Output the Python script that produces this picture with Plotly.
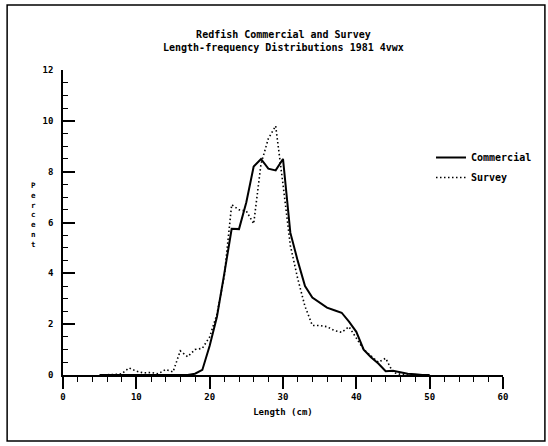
import plotly.graph_objects as go

length_cm = list(range(5, 51))
commercial = [0, 0, 0, 0, 0, 0, 0, 0, 0, 0, 0, 0, 0, 0.05, 0.2, 1.15, 2.3, 4.0,
              5.75, 5.74, 6.8, 8.2, 8.5, 8.12, 8.05, 8.5, 5.6, 4.5, 3.5, 3.05,
              2.85, 2.65, 2.55, 2.45, 2.1, 1.7, 1.0, 0.7, 0.45, 0.15, 0.17, 0.1,
              0.05, 0.03, 0, 0]
survey = [0, 0, 0.02, 0.05, 0.28, 0.15, 0.08, 0.1, 0.05, 0.22, 0.12, 0.95, 0.72,
          1.0, 1.05, 1.5, 2.4, 3.9, 6.7, 6.5, 6.45, 5.95, 8.3, 9.3, 9.8, 7.5,
          5.1, 3.8, 2.7, 1.95, 1.95, 1.9, 1.75, 1.68, 1.9, 1.45, 1.0, 0.75, 0.5,
          0.66, 0.1, 0.03, 0, 0, 0, 0]

x_ticks = [0, 10, 20, 30, 40, 50, 60]
y_ticks = [0, 2, 4, 6, 8, 10, 12]

FONT = "DejaVu Sans Mono"
W, H = 548, 446
L, R, T, B = 63, 44, 70, 71
pw, ph = W - L - R, H - T - B

fig = go.Figure()
fig.add_trace(go.Scatter(x=length_cm, y=commercial, mode="lines", name="Commercial",
                         legendgroup="c",
                         line=dict(color="black", width=2)))
fig.add_trace(go.Scatter(x=length_cm, y=survey, mode="lines", name="Survey",
                         legendgroup="s",
                         line=dict(color="black", width=1.6, dash="1.5px,2.5px")))

def px_x(p):
    return (p - L) / pw

def px_y(p):
    return (H - B - p) / ph

fig.update_layout(
    width=W, height=H,
    margin=dict(l=L, r=R, t=T, b=B),
    paper_bgcolor="white", plot_bgcolor="white",
    font=dict(family=FONT, size=10, color="black", weight="bold"),
    showlegend=True,
    legend=dict(x=px_x(431), y=px_y(143), xanchor="left", yanchor="top",
                traceorder="grouped", tracegroupgap=1,
                font=dict(family=FONT, size=10, weight="bold"),
                bgcolor="rgba(0,0,0,0)"),
    xaxis=dict(range=[0, 60], tickvals=x_ticks, ticks="outside", ticklen=12,
               tickwidth=1.5, tickcolor="black",
               showline=True, linecolor="black", linewidth=1.5,
               showgrid=False, zeroline=False,
               minor=dict(dtick=2, tick0=0, ticks="outside", ticklen=5,
                          tickwidth=1.2, tickcolor="black", showgrid=False),
               tickfont=dict(family=FONT, size=9, weight="bold"),
               title=dict(text="Length (cm)", standoff=8,
                          font=dict(family=FONT, size=9, weight="bold"))),
    yaxis=dict(range=[0, 12], tickvals=y_ticks, ticks="inside", ticklen=12,
               tickwidth=1.5, tickcolor="black",
               showline=True, linecolor="black", linewidth=1.5,
               showgrid=False, zeroline=False, ticklabelstandoff=6,
               minor=dict(dtick=0.5, tick0=0, ticks="inside", ticklen=5,
                          tickwidth=1.2, tickcolor="black", showgrid=False),
               tickfont=dict(family=FONT, size=9, weight="bold")),
)

fig.add_annotation(text="Redfish Commercial and Survey<br>Length-frequency Distributions 1981 4vwx",
                   xref="paper", yref="paper", x=0.5, y=px_y(41),
                   xanchor="center", yanchor="middle", showarrow=False,
                   font=dict(family=FONT, size=10, weight="bold"))

fig.add_annotation(text="<br>".join("Percent"),
                   xref="paper", yref="paper", x=px_x(33), y=px_y(215),
                   xanchor="center", yanchor="middle", showarrow=False,
                   font=dict(family=FONT, size=7.5, weight="bold"))

fig.add_shape(type="rect", xref="paper", yref="paper",
              x0=px_x(7), x1=px_x(546), y0=px_y(441), y1=px_y(5),
              line=dict(color="black", width=1.5))

fig.write_html("out.html")
